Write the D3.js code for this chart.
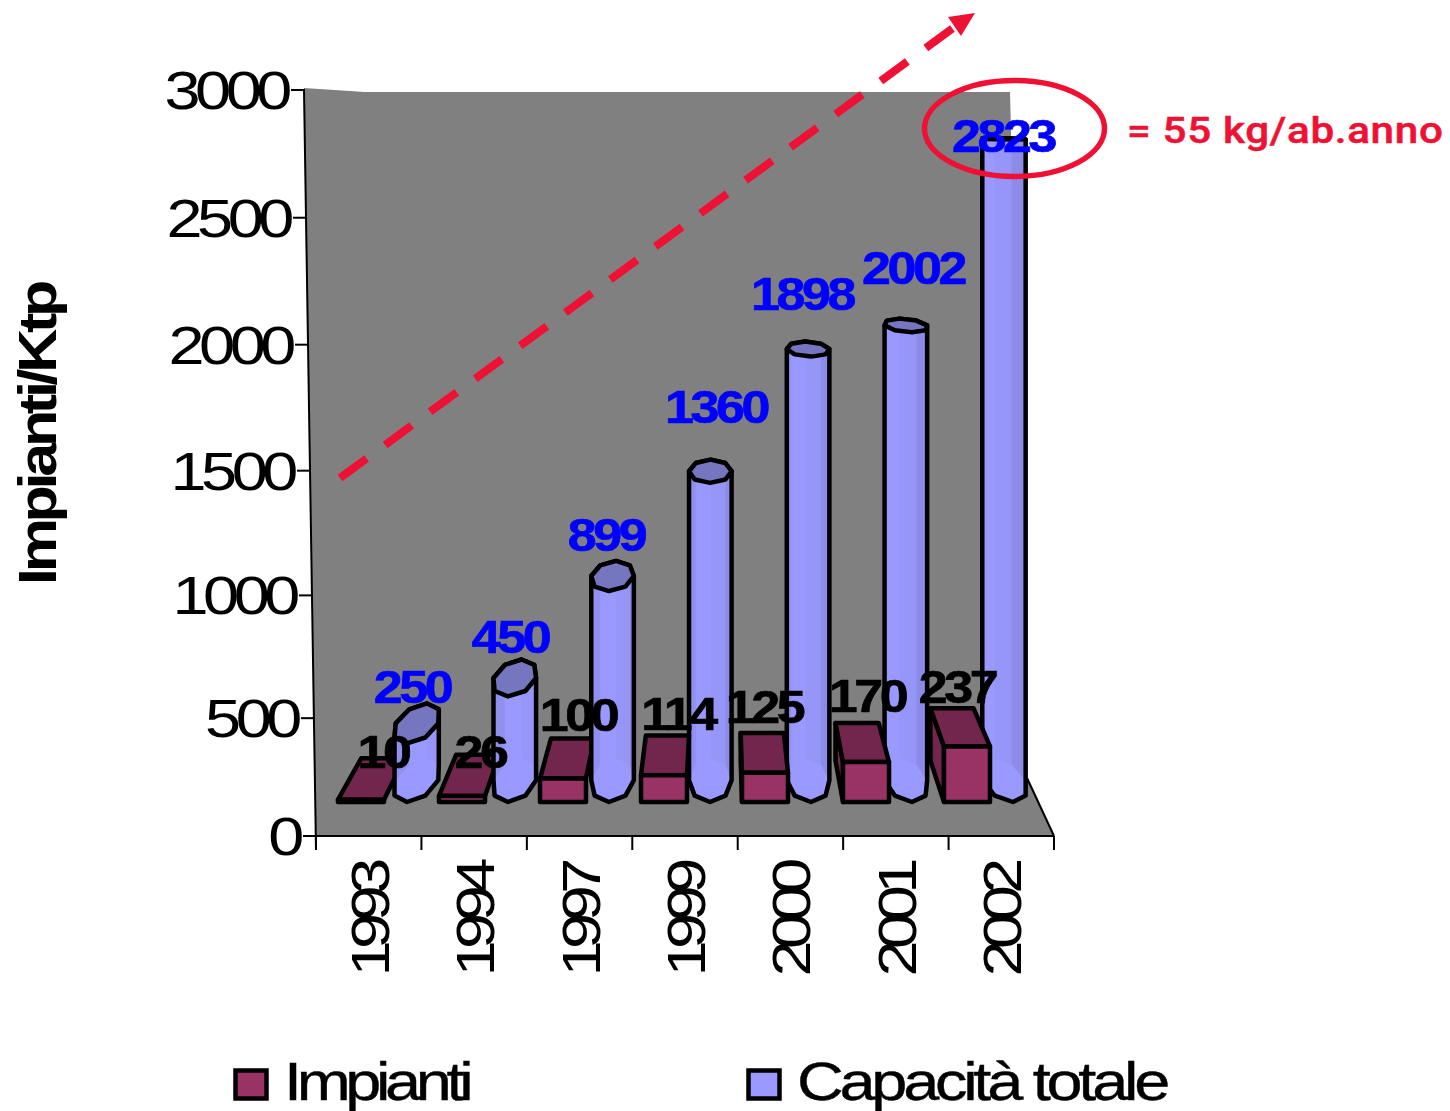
<!DOCTYPE html>
<html>
<head>
<meta charset="utf-8">
<style>
	html, body { margin: 0; padding: 0; background: #fff; }
	svg { display: block; }
	text { font-family: "Liberation Sans", Arial, sans-serif; }
</style>
<script src="https://d3js.org/d3.v7.min.js"></script>
</head>
<body>
<svg width="1450" height="1111"></svg>
<script>

// data
var years = ["1993", "1994", "1997", "1999", "2000", "2001", "2002"];
var impianti = [10, 26, 100, 114, 125, 170, 237];
var capacita = [250, 450, 899, 1360, 1898, 2002, 2823];
var seriesNames = ["Impianti", "Capacità totale"];
var valueTicks = [0, 500, 1000, 1500, 2000, 2500, 3000];

// label nudges, the labels were placed by hand in the original
var impLabelShift = [[22, 10], [18, 14], [15, -6], [14, -3], [-1, -8], [1, -8], [-10, -1]];
var capLabelShift = [[5, 0], [2, -3], [-3, 0], [6, -20], [-9, -7], [1, -8], [-10, 52]];

var impColor = "#993366", impDark = "#73264D";
var capColor = "#9999FF", capDark = "#7676C0";
var red = "#EE1133";

var svg = d3.select("svg");

// vanishing point of the 3d look, everything recedes toward it
var vx = 720, vy = 120, depthK = 0.064;

function project(x, y, d) {
	return [x + (vx - x) * depthK * d, y + (vy - y) * depthK * d];
}

var axisY = d3.scalePow().exponent(1.03).domain([0, 3000]).range([836, 90]);
var axisLean = d3.scaleLinear().domain([0, 3000]).range([316, 304]);
var xAxisBand = d3.scaleBand().domain(years).range([316, 1054]);

// bars stand further back than the front floor edge
var barY = d3.scaleLinear().domain([0, 3000]).range([802, 98]);
var xBar = d3.scaleBand().domain(years).range([333, 1040]);
var xSeries = d3.scaleBand().domain(seriesNames).range([5, 97]);

var line = d3.line();

// wall and floor
svg.append("path")
	.attr("d", line([[304, 88], [365, 92], [1010, 92], [1027, 778], [1054, 836], [316, 836]]) + "Z")
	.attr("fill", "#808080");
svg.append("path")
	.attr("d", line([[1027, 778], [1054, 836]]))
	.attr("fill", "none").attr("stroke", "#000").attr("stroke-width", 2);

// horizontally stretched text, like the original
function stretched(sel, x, y, sx, rotate) {
	sel.attr("transform", "translate(" + x + "," + y + ")" + (rotate ? " rotate(-90)" : "") + " scale(" + sx + ",1)");
	return sel;
}

// y axis
var gy = svg.append("g").call(d3.axisLeft(axisY).tickValues(valueTicks).tickFormat(d3.format("d")).tickSize(14).tickPadding(0));
gy.select(".domain").remove();
gy.selectAll(".tick").attr("transform", function (d) {
	return "translate(" + (axisLean(d) + 1) + "," + axisY(d) + ")";
});
gy.selectAll(".tick line").attr("stroke", "#000").attr("stroke-width", 2);
gy.selectAll(".tick text").each(function () {
	d3.select(this)
		.attr("x", null).attr("dy", null)
		.attr("text-anchor", "end")
		.attr("font-size", 54)
		.attr("letter-spacing", "-4.5px")
		.attr("fill", "#000")
		.attr("transform", "translate(-18,19) scale(1.2,1)");
});
svg.append("line")
	.attr("x1", axisLean(3000)).attr("y1", axisY(3000))
	.attr("x2", axisLean(0)).attr("y2", axisY(0) + 14)
	.attr("stroke", "#000").attr("stroke-width", 2);

// x axis
var gx = svg.append("g").attr("transform", "translate(0,836)")
	.call(d3.axisBottom(xAxisBand).tickSize(0));
gx.select(".domain").remove();
gx.selectAll(".tick text").each(function () {
	d3.select(this)
		.attr("y", null).attr("dy", null)
		.attr("text-anchor", "end")
		.attr("font-size", 54)
		.attr("letter-spacing", "-7px")
		.attr("fill", "#000")
		.attr("transform", "translate(20,30) rotate(-90) scale(1.2,1)");
});
svg.append("line")
	.attr("x1", 316).attr("x2", 1054).attr("y1", 836).attr("y2", 836)
	.attr("stroke", "#000").attr("stroke-width", 2);
svg.selectAll(".xtick")
	.data(years.concat(["end"]))
	.enter().append("line")
	.attr("class", "xtick")
	.attr("x1", function (d, i) { return xAxisBand.range()[0] + xAxisBand.step() * i; })
	.attr("x2", function (d, i) { return xAxisBand.range()[0] + xAxisBand.step() * i; })
	.attr("y1", 836).attr("y2", 850)
	.attr("stroke", "#000").attr("stroke-width", 2);

// y title
stretched(svg.append("text"), 56, 585, 1.13, true)
	.attr("font-size", 54)
	.attr("font-weight", "bold")
	.attr("letter-spacing", "-3.8px")
	.attr("fill", "#000")
	.text("Impianti/Ktp");

var edge = 4.5;

function drawBox(g, year, value) {
	var x0 = xBar(year) + xSeries(seriesNames[0]);
	var x1 = x0 + xSeries.bandwidth();
	var yb = barY(0), yt = barY(value), d = 0.95;
	var faces = [];
	// side face only shows when the box is right of the vanishing point
	if (x0 > vx) faces.push({ pts: [[x0, yb], [x0, yt], project(x0, yt, d), project(x0, yb, d)], fill: impDark });
	faces.push({ pts: [[x0, yt], [x1, yt], project(x1, yt, d), project(x0, yt, d)], fill: impDark });
	faces.push({ pts: [[x0, yb], [x1, yb], [x1, yt], [x0, yt]], fill: impColor });
	g.selectAll(null).data(faces).enter().append("path")
		.attr("d", function (f) { return line(f.pts) + "Z"; })
		.attr("fill", function (f) { return f.fill; })
		.attr("stroke", "#000").attr("stroke-width", edge).attr("stroke-linejoin", "round");
}

// the "cylinders" are really octagonal prisms
var octagon = d3.range(8).map(function (i) { return -Math.PI / 2 + i * Math.PI / 4; });
var facetShades = ["#9090EE", "#9999FF", "#9696F8", "#8C8CE8"];

function drawCylinder(g, year, value) {
	var cx = xBar(year) + xSeries(seriesNames[1]) + xSeries.bandwidth() / 2;
	var r = 22, yb = barY(0), yt = barY(value);
	function ring(y) {
		return octagon.map(function (a) {
			return project(cx + r * Math.cos(a), y, 0.5 - 0.5 * Math.sin(a));
		});
	}
	var top = ring(yt), bottom = ring(yb);
	var hull = d3.polygonHull(top.concat(bottom));
	g.append("path").attr("d", line(hull) + "Z").attr("fill", capColor);
	// front facets: vertices 6,7,0,1,2 go left to right along the front
	var front = [6, 7, 0, 1, 2];
	d3.pairs(front).forEach(function (p, i) {
		g.append("path")
			.attr("d", line([top[p[0]], top[p[1]], bottom[p[1]], bottom[p[0]]]) + "Z")
			.attr("fill", facetShades[i]);
	});
	g.append("path").attr("d", line(hull) + "Z")
		.attr("fill", "none").attr("stroke", "#000").attr("stroke-width", edge).attr("stroke-linejoin", "round");
	g.append("path").attr("d", line(d3.polygonHull(top)) + "Z")
		.attr("fill", capDark).attr("stroke", "#000").attr("stroke-width", edge).attr("stroke-linejoin", "round");
}

years.forEach(function (year, i) {
	var g = svg.append("g");
	// on the left the prism hides the box corner, further right the box comes first
	if (i < 3) {
		drawBox(g, year, impianti[i]);
		drawCylinder(g, year, capacita[i]);
	} else {
		drawCylinder(g, year, capacita[i]);
		drawBox(g, year, impianti[i]);
	}
});

// value labels
years.forEach(function (year, i) {
	var cxBox = xBar(year) + xSeries(seriesNames[0]) + xSeries.bandwidth() / 2;
	var cxCap = xBar(year) + xSeries(seriesNames[1]) + xSeries.bandwidth() / 2;
	stretched(svg.append("text"), cxBox + impLabelShift[i][0], barY(impianti[i]) - 42 + impLabelShift[i][1], 1.13)
		.attr("text-anchor", "middle")
		.attr("font-size", 46).attr("font-weight", "bold").attr("letter-spacing", "-3px")
		.attr("fill", "#000").attr("stroke", "#000").attr("stroke-width", 0.7)
		.text(impianti[i]);
	stretched(svg.append("text"), cxCap + capLabelShift[i][0], barY(capacita[i]) - 40 + capLabelShift[i][1], 1.13)
		.attr("text-anchor", "middle")
		.attr("font-size", 46).attr("font-weight", "bold").attr("letter-spacing", "-3px")
		.attr("fill", "#0000FF").attr("stroke", "#0000FF").attr("stroke-width", 0.7)
		.text(capacita[i]);
});

// red annotation
svg.append("line")
	.attr("x1", 340).attr("y1", 478).attr("x2", 953).attr("y2", 28)
	.attr("stroke", red).attr("stroke-width", 8)
	.attr("stroke-dasharray", "33 22.9");
svg.append("path")
	.attr("d", line([[975, 13], [948, 17], [961, 36]]) + "Z")
	.attr("fill", red);
svg.append("ellipse")
	.attr("cx", 1014.5).attr("cy", 128.5).attr("rx", 90).attr("ry", 48)
	.attr("fill", "none").attr("stroke", red).attr("stroke-width", 5.5);
stretched(svg.append("text"), 1127, 143, 1.14)
	.attr("font-size", 37).attr("font-weight", 500)
	.attr("letter-spacing", "0.6px")
	.attr("fill", red).attr("stroke", red).attr("stroke-width", 0.5)
	.style("font-family", "Roboto")
	.text("= 55 kg/ab.anno");

// legend
var legendX = d3.scalePoint().domain(seriesNames).range([234, 747]);
var legendFill = d3.scaleOrdinal().domain(seriesNames).range([impColor, capColor]);
var legendWidth = d3.scaleOrdinal().domain(seriesNames).range([158, 311]);

seriesNames.forEach(function (name) {
	svg.append("rect")
		.attr("x", legendX(name) + 1.5).attr("y", 1070.5)
		.attr("width", 31).attr("height", 28)
		.attr("fill", legendFill(name))
		.attr("stroke", "#000").attr("stroke-width", edge);
	stretched(svg.append("text"), legendX(name) + 50, 1100, 1.2)
		.attr("font-size", 54)
		.attr("textLength", legendWidth(name))
		.attr("lengthAdjust", "spacing")
		.attr("fill", "#000").attr("stroke", "#000").attr("stroke-width", 0.4)
		.text(name);
});

</script>
</body>
</html>
